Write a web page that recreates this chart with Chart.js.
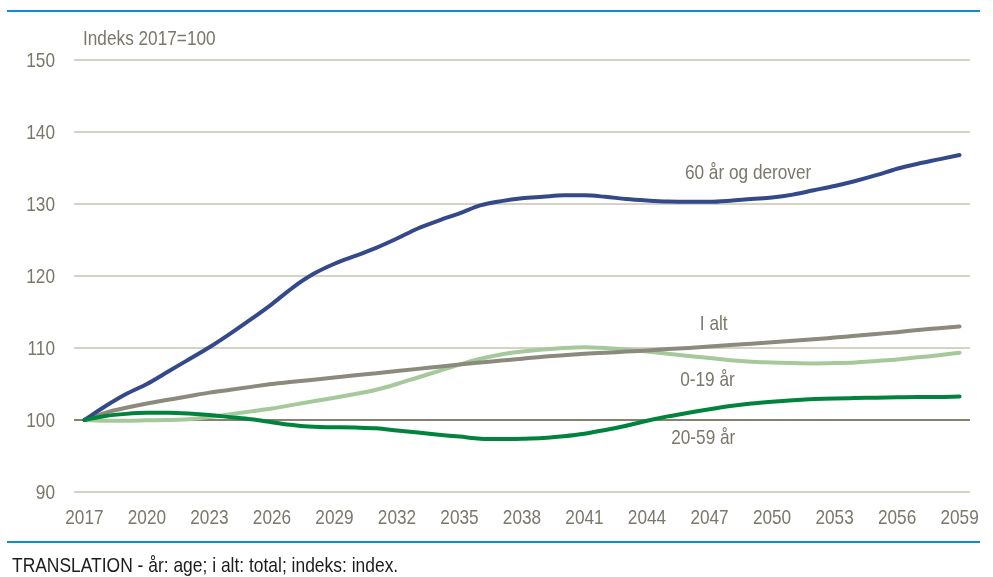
<!DOCTYPE html>
<html>
<head>
<meta charset="utf-8">
<script src="https://cdn.jsdelivr.net/npm/chart.js@4"></script>
<style>
  html, body { margin: 0; padding: 0; background: #fff; }
  #wrap { position: relative; width: 993px; height: 577px; }
  .rule { position: absolute; left: 7px; width: 973px; height: 2px; background: #0b8fd2; }
  #note {
    position: absolute; left: 12px; top: 553px; white-space: nowrap;
    font: 21px "Liberation Sans", Arial, sans-serif; color: #1c1c1c;
    transform: scaleX(0.83); transform-origin: 0 0;
  }
</style>
</head>
<body>
<div id="wrap">
  <canvas id="chart" width="993" height="577"></canvas>
  <div class="rule" style="top:10px"></div>
  <div class="rule" style="top:541px"></div>
  <div id="note">TRANSLATION - år: age; i alt: total; indeks: index.</div>
</div>
<script>
const years = [];
for (let y = 2017; y <= 2059; y++) years.push(String(y));

const age60plus = [100, 101.9, 103.6, 105.0, 106.7, 108.4, 110.1, 112.0, 114.0, 116.1,
  118.4, 120.3, 121.7, 122.8, 123.9, 125.2, 126.6, 127.7, 128.7, 129.8,
  130.4, 130.8, 131.0, 131.2, 131.2, 131.0, 130.7, 130.5, 130.35, 130.3,
  130.3, 130.45, 130.7, 130.9, 131.3, 131.9, 132.5, 133.2, 134.0, 134.9,
  135.6, 136.2, 136.8];
const total = [100, 101.0, 101.7, 102.3, 102.8, 103.3, 103.8, 104.2, 104.6, 105.0,
  105.3, 105.6, 105.9, 106.2, 106.5, 106.8, 107.1, 107.4, 107.7, 108.0,
  108.25, 108.5, 108.8, 109.0, 109.2, 109.35, 109.5, 109.65, 109.85, 110.0,
  110.2, 110.4, 110.6, 110.8, 111.0, 111.2, 111.45, 111.7, 111.95, 112.2,
  112.5, 112.75, 113.0];
const age0to19 = [100, 99.9, 99.9, 99.95, 100.0, 100.1, 100.4, 100.8, 101.2, 101.6,
  102.1, 102.6, 103.1, 103.6, 104.2, 105.0, 105.9, 106.8, 107.7, 108.5,
  109.1, 109.5, 109.8, 110.0, 110.1, 110.0, 109.8, 109.5, 109.2, 108.9,
  108.6, 108.3, 108.1, 108.0, 107.9, 107.85, 107.9, 108.0, 108.2, 108.4,
  108.7, 109.0, 109.35];
const age20to59 = [100, 100.55, 100.85, 101.0, 101.0, 100.9, 100.7, 100.4, 100.1, 99.7,
  99.3, 99.05, 99.0, 98.95, 98.85, 98.55, 98.25, 97.95, 97.7, 97.4,
  97.35, 97.4, 97.5, 97.75, 98.1, 98.6, 99.2, 99.9, 100.5, 101.0,
  101.5, 101.95, 102.3, 102.55, 102.75, 102.9, 103.0, 103.05, 103.1, 103.15,
  103.2, 103.2, 103.25];

// series names written beside the lines: [text, year index, value]
const seriesLabels = [
  ["60 år og derover", 31.85, 134.3],
  ["I alt", 30.2, 113.3],
  ["0-19 år", 29.9, 105.5],
  ["20-59 år", 29.7, 97.5]
];

const FONT = '"Liberation Sans", Arial, sans-serif';
const TEXT = "#7a776b";
const NARROW = 0.82; // horizontal squeeze to get a narrow face

function narrowText(ctx, text, x, y, align) {
  ctx.save();
  ctx.translate(x, y);
  ctx.scale(NARROW, 1);
  ctx.textAlign = align;
  ctx.fillText(text, 0, 0);
  ctx.restore();
}

const textLayer = {
  id: "textLayer",
  afterDraw(chart) {
    const { ctx, scales: { x, y } } = chart;
    ctx.save();
    ctx.font = "21px " + FONT;
    ctx.fillStyle = TEXT;
    ctx.textBaseline = "middle";
    // y axis tick labels
    y.ticks.forEach((t) => {
      narrowText(ctx, String(t.value), 55, y.getPixelForValue(t.value) + 1, "right");
    });
    // x axis tick labels, every third year
    for (let i = 0; i < years.length; i += 3) {
      narrowText(ctx, years[i], x.getPixelForValue(i), 518, "center");
    }
    seriesLabels.forEach(([t, idx, v]) => {
      narrowText(ctx, t, x.getPixelForValue(idx), y.getPixelForValue(v), "center");
    });
    narrowText(ctx, "Indeks 2017=100", 83, 39, "left");
    ctx.restore();
  }
};

function series(data, color, order) {
  return {
    data,
    borderColor: color,
    borderWidth: 4,
    pointRadius: 0,
    tension: 0.4,
    cubicInterpolationMode: "monotone",
    borderCapStyle: "round",
    fill: false,
    order
  };
}

new Chart(document.getElementById("chart"), {
  type: "line",
  data: {
    labels: years,
    datasets: [
      series(age20to59, "#00843d", 0),
      series(age60plus, "#34498a", 1),
      series(total, "#8c897d", 2),
      series(age0to19, "#a6c99c", 3)
    ]
  },
  options: {
    responsive: false,
    animation: false,
    layout: { padding: { top: 60, right: 23, bottom: 45, left: 0 } },
    plugins: { legend: { display: false }, tooltip: { enabled: false } },
    scales: {
      x: {
        offset: true,
        grid: { display: false, drawTicks: false },
        border: { display: false },
        afterFit(scale) { scale.height = 40; },
        ticks: { display: false, autoSkip: false, maxRotation: 0 }
      },
      y: {
        min: 90,
        max: 150,
        afterFit(scale) { scale.width = 74; },
        border: { display: false },
        grid: {
          drawTicks: false,
          lineWidth: 2,
          color: (c) => (c.tick && c.tick.value === 100 ? "#85826f" : "#d3d3c6")
        },
        ticks: { display: false, stepSize: 10 }
      }
    }
  },
  plugins: [textLayer]
});
</script>
</body>
</html>
